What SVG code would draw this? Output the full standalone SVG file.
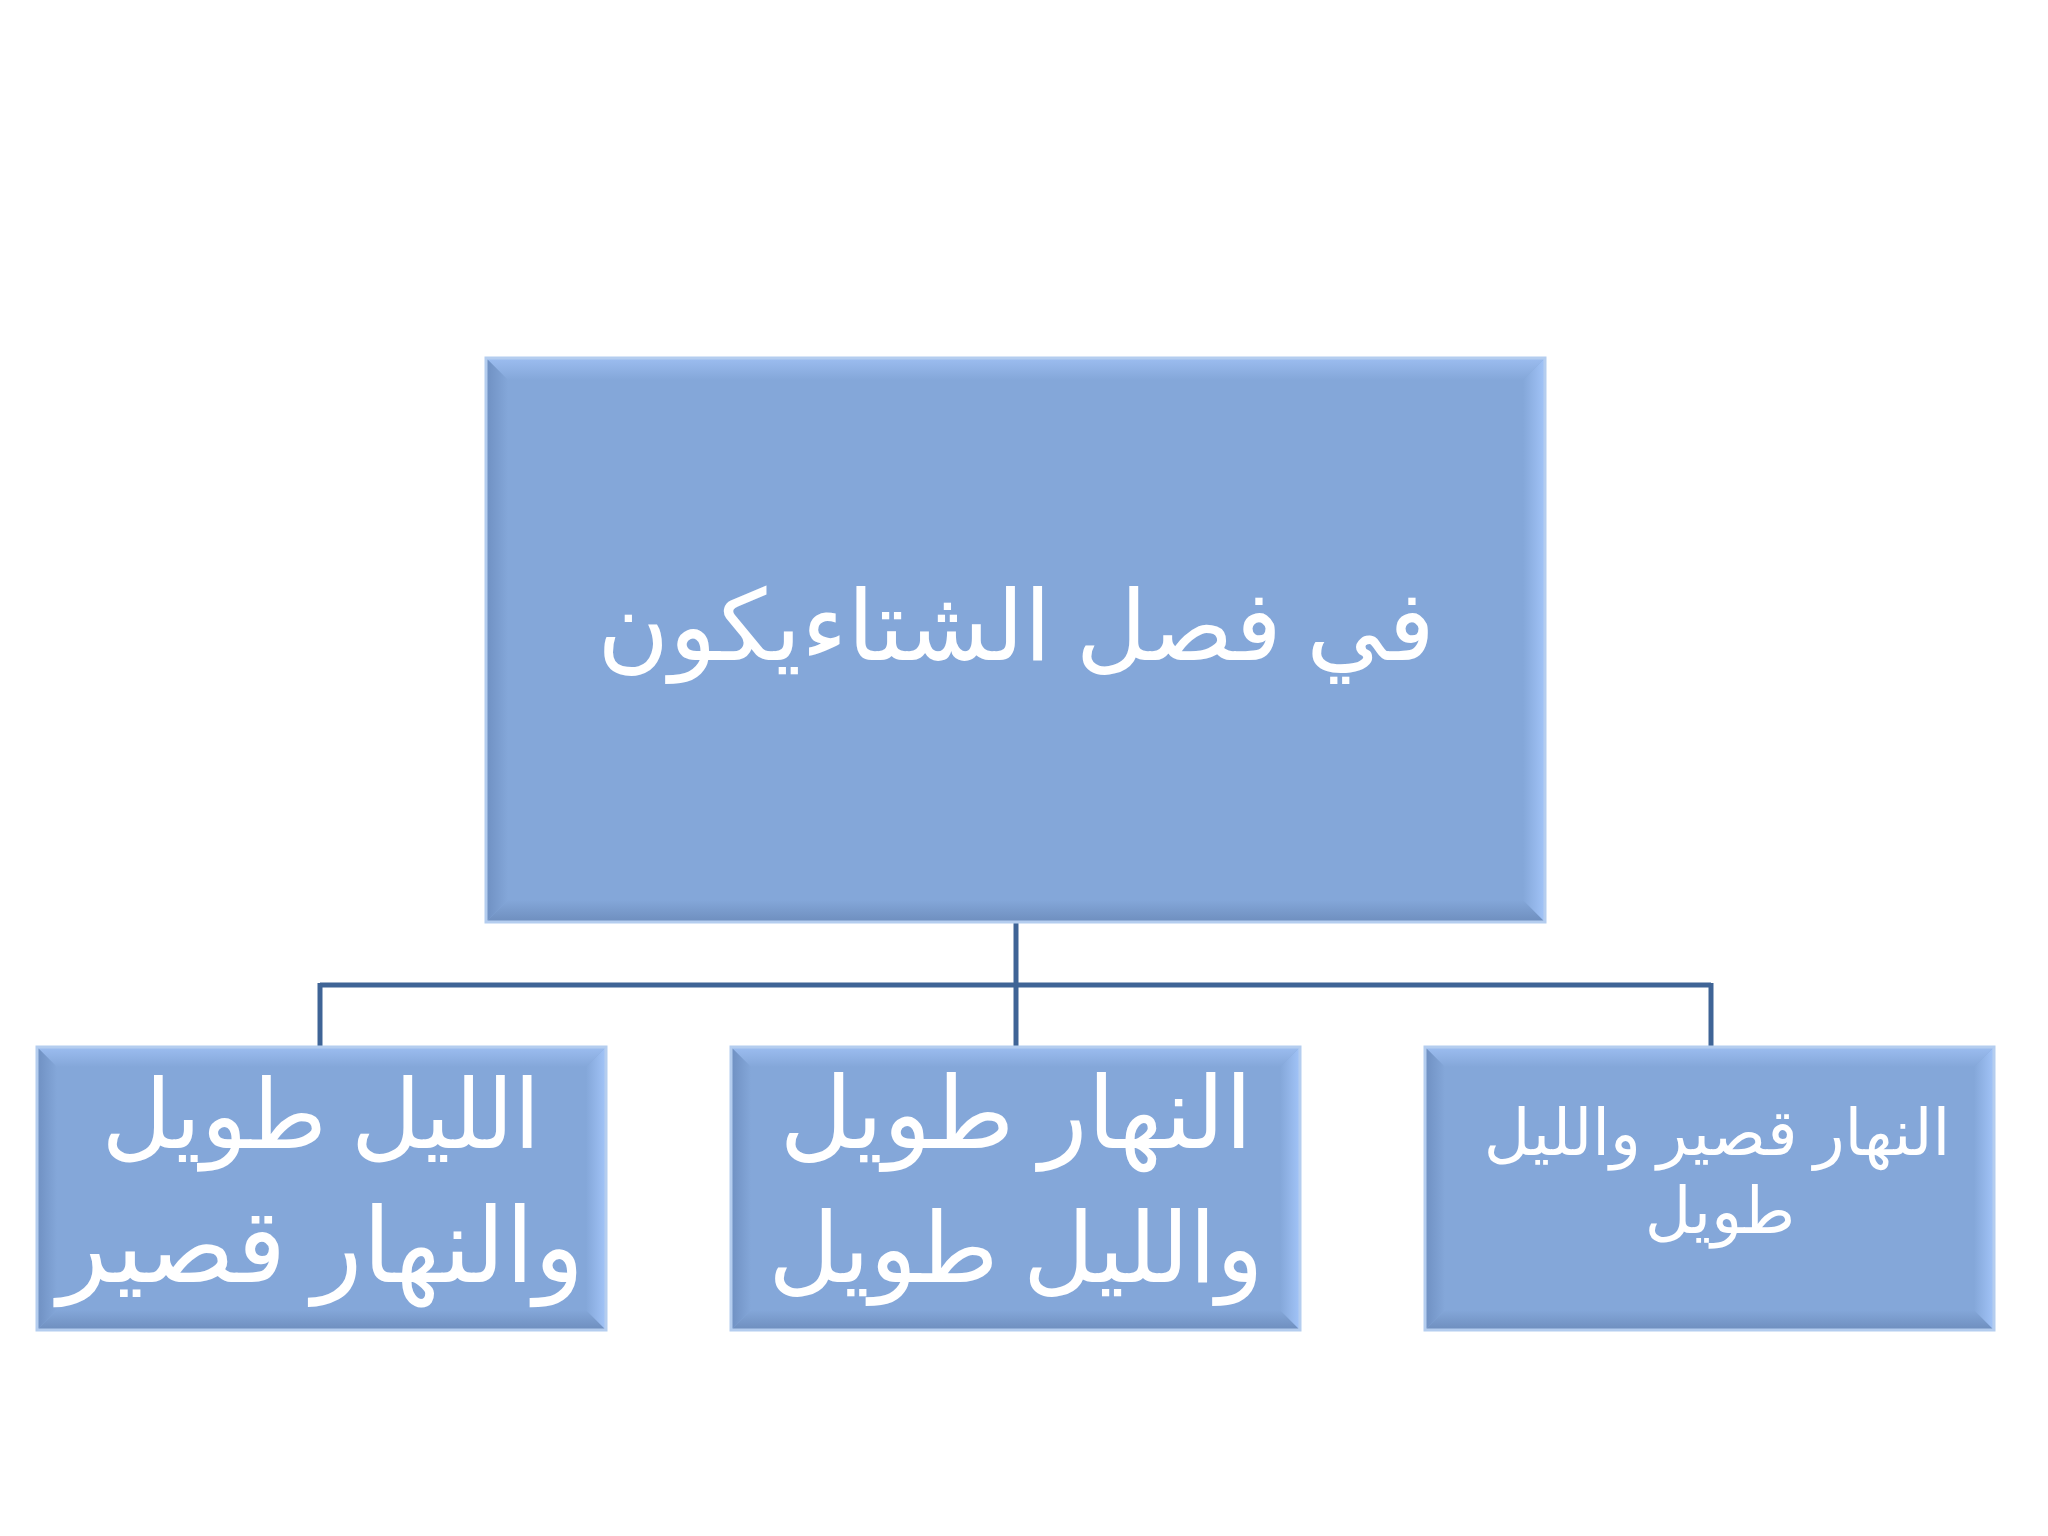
<svg xmlns="http://www.w3.org/2000/svg" width="2048" height="1536" viewBox="0 0 2048 1536">
<style>
.face{fill:#84A7D9}
.edge{fill:none;stroke:#B4CDEF;stroke-width:3}
.t{font-family:"Liberation Serif","DejaVu Serif","DejaVu Sans",serif;fill:#FFFFFF;text-anchor:middle;direction:rtl}
.conn{stroke:#3F6496;stroke-width:5;fill:none}
</style>
<defs>
<linearGradient id="gt" x1="0" y1="0" x2="0" y2="1"><stop offset="0" stop-color="#9CBDF0"/><stop offset="1" stop-color="#84A7D9"/></linearGradient>
<linearGradient id="gl" x1="0" y1="0" x2="1" y2="0"><stop offset="0" stop-color="#6F90C2"/><stop offset="1" stop-color="#84A7D9"/></linearGradient>
<linearGradient id="gb" x1="0" y1="1" x2="0" y2="0"><stop offset="0" stop-color="#6E8EBE"/><stop offset="1" stop-color="#84A7D9"/></linearGradient>
<linearGradient id="gr" x1="1" y1="0" x2="0" y2="0"><stop offset="0" stop-color="#A2C4F8"/><stop offset="1" stop-color="#84A7D9"/></linearGradient>
</defs>
<rect width="2048" height="1536" fill="#FFFFFF"/>
<g id="connectors">
<path class="conn" d="M1016 922 V1047"/>
<path class="conn" d="M320 985 H1711"/>
<path class="conn" d="M320 983 V1047"/>
<path class="conn" d="M1711 983 V1047"/>
</g>
<g id="node-top">
<rect class="face" x="486" y="358" width="1059" height="564"/>
<polygon fill="url(#gt)" points="486,358 1545,358 1523,380 508,380"/>
<polygon fill="url(#gl)" points="486,358 508,380 508,900 486,922"/>
<polygon fill="url(#gb)" points="486,922 508,900 1523,900 1545,922"/>
<polygon fill="url(#gr)" points="1545,358 1545,922 1523,900 1523,380"/>
<rect class="edge" x="486" y="358" width="1059" height="564"/>
<text class="t" x="1016" y="660" font-size="98">في فصل الشتاءيكون</text>
</g>
<g id="node-left">
<rect class="face" x="37" y="1047" width="569" height="283"/>
<polygon fill="url(#gt)" points="37,1047 606,1047 586,1067 57,1067"/>
<polygon fill="url(#gl)" points="37,1047 57,1067 57,1310 37,1330"/>
<polygon fill="url(#gb)" points="37,1330 57,1310 586,1310 606,1330"/>
<polygon fill="url(#gr)" points="606,1047 606,1330 586,1310 586,1067"/>
<rect class="edge" x="37" y="1047" width="569" height="283"/>
<text class="t" x="321" y="1148" font-size="96">الليل طويل</text>
<text class="t" x="321" y="1282" font-size="104">والنهار قصير</text>
</g>
<g id="node-middle">
<rect class="face" x="731" y="1047" width="569" height="283"/>
<polygon fill="url(#gt)" points="731,1047 1300,1047 1280,1067 751,1067"/>
<polygon fill="url(#gl)" points="731,1047 751,1067 751,1310 731,1330"/>
<polygon fill="url(#gb)" points="731,1330 751,1310 1280,1310 1300,1330"/>
<polygon fill="url(#gr)" points="1300,1047 1300,1330 1280,1310 1280,1067"/>
<rect class="edge" x="731" y="1047" width="569" height="283"/>
<text class="t" x="1016" y="1148" font-size="100">النهار طويل</text>
<text class="t" x="1016" y="1282" font-size="98">والليل طويل</text>
</g>
<g id="node-right">
<rect class="face" x="1425" y="1047" width="569" height="283"/>
<polygon fill="url(#gt)" points="1425,1047 1994,1047 1974,1067 1445,1067"/>
<polygon fill="url(#gl)" points="1425,1047 1445,1067 1445,1310 1425,1330"/>
<polygon fill="url(#gb)" points="1425,1330 1445,1310 1974,1310 1994,1330"/>
<polygon fill="url(#gr)" points="1994,1047 1994,1330 1974,1310 1974,1067"/>
<rect class="edge" x="1425" y="1047" width="569" height="283"/>
<text class="t" x="1717" y="1155" font-size="64">النهار قصير والليل</text>
<text class="t" x="1720" y="1233" font-size="64">طويل</text>
</g>
</svg>
